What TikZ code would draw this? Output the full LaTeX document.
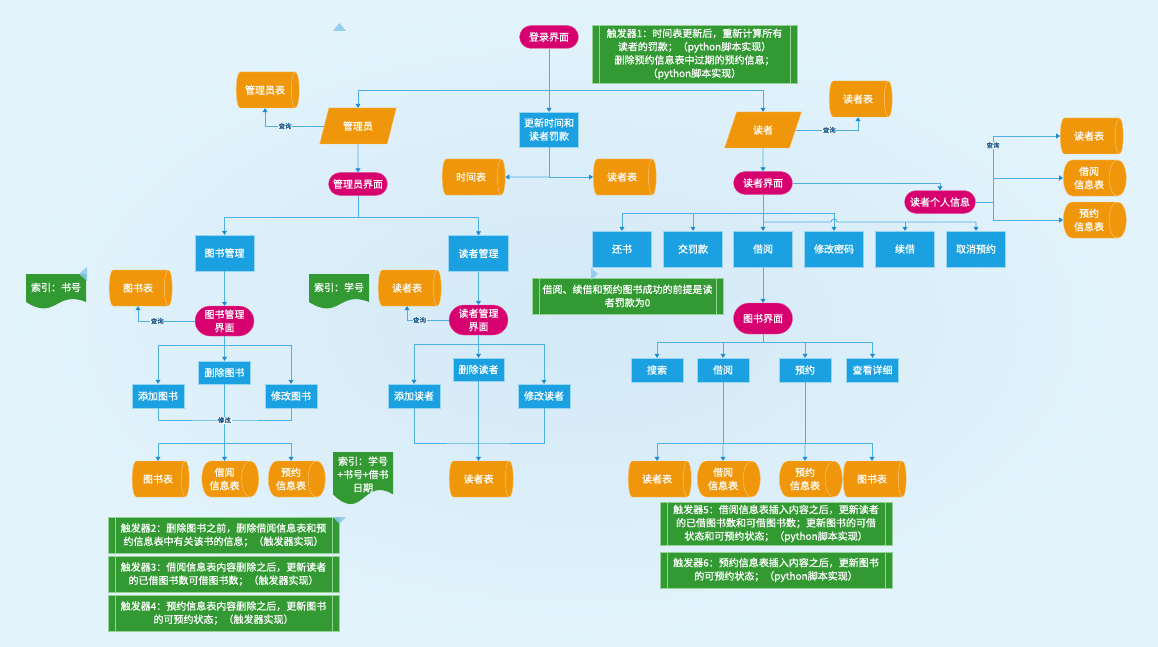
\documentclass[tikz,border=0pt]{standalone}
\usepackage{fontspec}
\newfontfamily\cjk{Noto Sans CJK SC}[FakeBold=0.7]
\usetikzlibrary{arrows.meta,positioning,shapes.geometric,shapes.misc,calc}

\definecolor{bgin}{RGB}{211,233,247}
\definecolor{bgout}{RGB}{226,243,251}
\definecolor{pinkc}{RGB}{214,0,111}
\definecolor{bluec}{RGB}{27,161,226}
\definecolor{orangec}{RGB}{240,150,10}
\definecolor{orangeln}{RGB}{248,196,110}
\definecolor{greenc}{RGB}{51,153,51}
\definecolor{greenln}{RGB}{150,210,150}
\definecolor{linec}{RGB}{80,175,228}
\definecolor{tipc}{RGB}{30,140,210}
\definecolor{tagc}{RGB}{25,90,140}
\definecolor{markc}{RGB}{140,200,235}

\begin{document}
\begin{tikzpicture}[x=1pt,y=-1pt,
  every node/.style={font=\cjk\fontsize{10}{13.3}\selectfont, text=white, align=center, inner sep=1pt},
  term/.style={rectangle, rounded corners=11.5pt, fill=pinkc, draw=pinkc!60!white, minimum width=59pt, minimum height=23pt},
  proc/.style={rectangle, fill=bluec, draw=bluec!45!white, minimum width=59pt, minimum height=36pt},
  btn/.style={proc, minimum width=52pt, minimum height=24pt},
  io/.style={trapezium, trapezium left angle=66, trapezium right angle=114, trapezium stretches=true,
    fill=orangec, draw=orangec!55!white, minimum width=77pt, minimum height=36pt},
  cyl/.style={cylinder, shape aspect=0.7, cylinder uses custom fill, cylinder body fill=orangec,
    cylinder end fill=orangec, draw=orangeln, minimum width=36pt, minimum height=63pt},
  note/.style={rectangle, fill=greenc, draw=greenln, minimum height=36pt,
    path picture={\draw[greenln] ([xshift=7pt]path picture bounding box.north west) -- ([xshift=7pt]path picture bounding box.south west);
      \draw[greenln] ([xshift=-7pt]path picture bounding box.north east) -- ([xshift=-7pt]path picture bounding box.south east);}},
  docnote/.style={rectangle, minimum width=60pt, text depth=9pt,
    path picture={\fill[greenc] (path picture bounding box.north west) -- (path picture bounding box.north east)
      -- ($(path picture bounding box.south east)!0.2!(path picture bounding box.north east)$)
      .. controls ($(path picture bounding box.south)!0.55!(path picture bounding box.north)$)
      and ($(path picture bounding box.south)!-0.35!(path picture bounding box.north)$)
      .. ($(path picture bounding box.south west)!0.2!(path picture bounding box.north west)$) -- cycle;}},
  tag/.style={font=\cjk\fontsize{6.5}{7}\selectfont, text=tagc, fill=white, inner sep=0.5pt},
  wire/.style={draw=linec, line width=0.8pt},
  conn/.style={wire, -{Triangle[width=5pt,length=4pt,color=tipc]}}]

\useasboundingbox (0,0) rectangle (1158,647);
\shade[inner color=bgin, outer color=bgout] (0,0) rectangle (1158,647);

% login and top row
\node[term] (login) at (549,37) {登录界面};
\node[note, minimum width=205pt, minimum height=58pt] (trig1) at (694.5,54) {触发器1：时间表更新后，重新计算所有\\读者的罚款；（python脚本实现）\\删除预约信息表中过期的预约信息；\\（python脚本实现）};
\node[io] (admin) at (358,126) {管理员};
\node[cyl] (admintab) at (265,90) {管理员表};
\node[proc, minimum height=35pt] (update) at (549,129.5) {更新时间和\\读者罚款};
\node[cyl] (timetab) at (471,177) {时间表};
\node[cyl] (readtab) at (622,177) {读者表};
\node[io] (reader) at (763,130) {读者};
\node[cyl] (readtab2) at (858,99) {读者表};
\node[term] (adminui) at (358,184) {管理员界面};
\node[term] (readerui) at (763,183) {读者界面};
\node[term, minimum width=71pt] (personal) at (940,202) {读者个人信息};
\node[cyl] (preader) at (1089,136) {读者表};
\node[cyl] (pborrow) at (1089,178) {借阅\\信息表};
\node[cyl] (preserve) at (1089,220) {预约\\信息表};

% reader functions
\node[proc] (ret) at (622,249) {还书};
\node[proc] (fine) at (693,249) {交罚款};
\node[proc] (borrow) at (763,249) {借阅};
\node[proc] (pwd) at (834,249) {修改密码};
\node[proc] (renew) at (905,249) {续借};
\node[proc] (cancel) at (976,249) {取消预约};
\node[note, minimum width=191pt] (cond) at (627.5,296) {借阅、续借和预约图书成功的前提是读\\者罚款为0};
\node[term, minimum height=31pt, rounded corners=15.5pt] (bookui) at (763,318.5) {图书界面};
\node[btn] (search) at (657,370) {搜索};
\node[btn] (bborrow) at (723,370) {借阅};
\node[btn] (bresv) at (805,370) {预约};
\node[btn] (detail) at (872.5,370) {查看详细};
\node[cyl] (rt3) at (657,479) {读者表};
\node[cyl] (bt3) at (723,479) {借阅\\信息表};
\node[cyl] (rv3) at (805,479) {预约\\信息表};
\node[cyl] (bk3) at (872,479) {图书表};
\node[note, minimum width=232pt, minimum height=43pt] (trig5) at (776,523.5) {触发器5：借阅信息表插入内容之后，更新读者\\的已借图书数和可借图书数；更新图书的可借\\状态和可预约状态；（python脚本实现）};
\node[note, minimum width=232pt] (trig6) at (776,570) {触发器6：预约信息表插入内容之后，更新图书\\的可预约状态；（python脚本实现）};

% book management
\node[proc] (bookmgr) at (224.5,253) {图书管理};
\node[term, minimum height=30pt, rounded corners=15pt] (bookmui) at (224.5,321) {图书管理\\界面};
\node[cyl] (booktab) at (138,288) {图书表};
\node[docnote, minimum height=35pt] (idx1) at (56,291.5) {索引：书号};
\node[btn, minimum height=23pt] (bdel) at (224.5,372.5) {删除图书};
\node[btn] (badd) at (158,396) {添加图书};
\node[btn] (bmod) at (291,396) {修改图书};
\node[cyl, minimum height=57pt] (bt1) at (158,479) {图书表};
\node[cyl, minimum height=57pt] (bb1) at (224.5,479) {借阅\\信息表};
\node[cyl, minimum height=57pt] (br1) at (291,479) {预约\\信息表};
\node[docnote, minimum height=53pt] (idx3) at (363,478.5) {索引：学号\\+书号+借书\\日期};
\node[note, minimum width=231pt] (trig2) at (223.5,535) {触发器2：删除图书之前，删除借阅信息表和预\\约信息表中有关该书的信息；（触发器实现）};
\node[note, minimum width=231pt] (trig3) at (223.5,574) {触发器3：借阅信息表内容删除之后，更新读者\\的已借图书数可借图书数；（触发器实现）};
\node[note, minimum width=231pt] (trig4) at (223.5,613) {触发器4：预约信息表内容删除之后，更新图书\\的可预约状态；（触发器实现）};

% reader management
\node[proc, minimum width=60pt] (readmgr) at (478.5,253.5) {读者管理};
\node[term, minimum height=30pt, rounded corners=15pt] (readmui) at (478.5,320) {读者管理\\界面};
\node[cyl] (rtab) at (407,288) {读者表};
\node[docnote, minimum height=35pt] (idx2) at (339,291.5) {索引：学号};
\node[btn, minimum width=51pt, minimum height=23pt] (rdel) at (478.5,369.5) {删除读者};
\node[btn] (radd) at (414,396) {添加读者};
\node[btn] (rmod) at (544,396) {修改读者};
\node[cyl, minimum height=64pt] (rtab2) at (478.5,479) {读者表};

% connectors, top
\draw[conn] (login) -- (update);
\coordinate (jtop) at (549,90);
\draw[conn] (jtop) -| (admin.north);
\draw[conn] (jtop) -| (reader.north);
\draw[conn] (admin.west) -| node[tag, pos=0.33] {查询} (admintab.south);
\draw[conn] (admin) -- (adminui);
\coordinate (jadm) at (358,217);
\draw[wire] (adminui) -- (jadm);
\draw[conn] (jadm) -| (bookmgr.north);
\draw[conn] (jadm) -| (readmgr.north);
\coordinate (jupd) at (549,177);
\draw[wire] (update) -- (jupd);
\draw[conn] (jupd) -- (timetab.east);
\draw[conn] (jupd) -- (readtab.west);

% connectors, reader side
\draw[conn] (reader.east) -| node[tag, pos=0.27] {查询} (readtab2.south);
\draw[conn] (reader) -- (readerui);
\draw[conn] (readerui.east) -| (personal.north);
\coordinate (jper) at (993,202);
\draw[wire] (personal.east) -- (jper);
\draw[conn] (jper) |- node[tag, pos=0.43] {查询} (preader.west);
\draw[conn] (jper) |- (pborrow.west);
\draw[conn] (jper) |- (preserve.west);
\coordinate (jfa) at (763,213);
\coordinate (jfb) at (763,222);
\coordinate (hop) at (831,222);
\draw[conn] (readerui) -- (borrow);
\draw[conn] (jfa) -| (ret.north);
\draw[conn] (jfa) -| (fine.north);
\draw[conn] (jfa) -| (pwd.north);
\draw[conn] (jfb) -- (hop) arc[start angle=180, end angle=0, radius=3pt] -| (cancel.north);
\draw[conn] (renew.north |- jfb) -- (renew.north);
\draw[conn] (borrow) -- (bookui);
\coordinate (jbk) at (763,342);
\draw[wire] (bookui) -- (jbk);
\draw[conn] (jbk) -| (search.north);
\draw[conn] (jbk) -| (bborrow.north);
\draw[conn] (jbk) -| (bresv.north);
\draw[conn] (jbk) -| (detail.north);
\coordinate (jb1) at (723,443);
\coordinate (jb2) at (805,443);
\draw[wire] (bborrow) -- (jb1);
\draw[wire] (bresv) -- (jb2);
\draw[wire] (jb1) -- (jb2);
\draw[conn] (jb1) -| (rt3.north);
\draw[conn] (jb1) -- (bt3.north);
\draw[conn] (jb2) -- (rv3.north);
\draw[conn] (jb2) -| (bk3.north);

% connectors, book management
\draw[conn] (bookmgr) -- (bookmui);
\draw[conn] (bookmui.west) -| node[tag, pos=0.33] {查询} (booktab.south);
\coordinate (jbm) at (224.5,345);
\draw[wire] (bookmui) -- (jbm);
\draw[conn] (jbm) -| (badd.north);
\draw[conn] (jbm) -- (bdel);
\draw[conn] (jbm) -| (bmod.north);
\coordinate (jbm2) at (224.5,420);
\draw[wire] (badd.south) |- (jbm2) -| (bmod.south);
\draw[conn] (bdel) -- node[tag, pos=0.47] {修改} (bb1);
\coordinate (jbm3) at (224.5,443);
\draw[conn] (jbm3) -| (bt1.north);
\draw[conn] (jbm3) -| (br1.north);

% connectors, reader management
\draw[conn] (readmgr) -- (readmui);
\draw[conn] (readmui.west) -| node[tag, pos=0.35] {查询} (rtab.south);
\coordinate (jrm) at (478.5,344);
\draw[wire] (readmui) -- (jrm);
\draw[conn] (jrm) -| (radd.north);
\draw[conn] (jrm) -- (rdel);
\draw[conn] (jrm) -| (rmod.north);
\coordinate (jrm2) at (478.5,443);
\draw[wire] (radd.south) |- (jrm2) -| (rmod.south);
\draw[conn] (rdel) -- (rtab2);

% note markers
\fill[markc, opacity=0.85] (333,31) -- (346,31) -- (339.5,23) -- cycle;
\fill[markc, opacity=0.85] (87,267) -- (87,281) -- (79,274) -- cycle;
\fill[markc, opacity=0.85] (591,268) -- (591,280) -- (598,274) -- cycle;
\fill[markc, opacity=0.85] (333,517) -- (346,517) -- (339.5,524) -- cycle;
\end{tikzpicture}
\end{document}
